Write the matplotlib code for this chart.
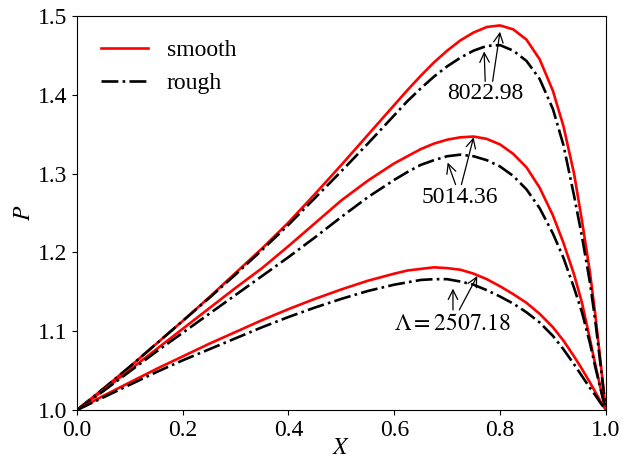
import numpy as np
import matplotlib
matplotlib.use("Agg")
import matplotlib.pyplot as plt

plt.rcParams['font.family'] = ['Liberation Serif', 'DejaVu Serif']
plt.rcParams['mathtext.fontset'] = 'stix'
plt.rcParams['font.size'] = 17

# sampled positions along the bearing
x = [0.0, 0.05, 0.1, 0.15, 0.2, 0.25, 0.3, 0.35, 0.4, 0.45, 0.5, 0.55,
     0.6, 0.625, 0.65, 0.675, 0.7, 0.725, 0.75, 0.775, 0.8, 0.825, 0.85, 0.875, 0.9,
     0.92, 0.94, 0.955, 0.97, 0.98, 0.99, 1.0]

# Lambda = 8022.98
p8022_smooth = [1.0, 1.027, 1.055, 1.084, 1.113, 1.143, 1.174, 1.205, 1.238, 1.274, 1.311, 1.349,
                1.387, 1.406, 1.424, 1.441, 1.456, 1.469, 1.479, 1.486, 1.488, 1.483, 1.470, 1.445, 1.405,
                1.360, 1.300, 1.240, 1.175, 1.122, 1.062, 1.0]
p8022_rough = [1.0, 1.027, 1.055, 1.084, 1.113, 1.142, 1.172, 1.203, 1.235, 1.269, 1.303, 1.338,
               1.374, 1.392, 1.408, 1.423, 1.436, 1.447, 1.456, 1.462, 1.463, 1.456, 1.443, 1.420, 1.382,
               1.336, 1.272, 1.220, 1.162, 1.114, 1.058, 1.0]

# Lambda = 5014.36
p5014_smooth = [1.0, 1.025, 1.051, 1.077, 1.103, 1.129, 1.155, 1.180, 1.208, 1.237, 1.266, 1.291,
                1.313, 1.322, 1.331, 1.338, 1.343, 1.346, 1.347, 1.344, 1.337, 1.325, 1.308, 1.282, 1.247,
                1.212, 1.172, 1.136, 1.090, 1.058, 1.028, 1.0]
p5014_rough = [1.0, 1.024, 1.049, 1.074, 1.098, 1.122, 1.146, 1.170, 1.194, 1.219, 1.245, 1.270,
               1.292, 1.302, 1.311, 1.317, 1.322, 1.324, 1.322, 1.317, 1.309, 1.297, 1.280, 1.256, 1.224,
               1.193, 1.155, 1.124, 1.085, 1.055, 1.027, 1.0]

# Lambda = 2507.18
p2507_smooth = [1.0, 1.018, 1.035, 1.052, 1.068, 1.084, 1.099, 1.114, 1.128, 1.141, 1.153, 1.164,
                1.173, 1.177, 1.179, 1.181, 1.180, 1.178, 1.173, 1.166, 1.157, 1.147, 1.136, 1.122, 1.105,
                1.088, 1.068, 1.052, 1.035, 1.023, 1.011, 1.0]
p2507_rough = [1.0, 1.016, 1.032, 1.048, 1.063, 1.077, 1.091, 1.105, 1.118, 1.130, 1.141, 1.151,
               1.159, 1.162, 1.165, 1.166, 1.166, 1.163, 1.159, 1.152, 1.144, 1.135, 1.124, 1.111, 1.094,
               1.077, 1.058, 1.043, 1.028, 1.019, 1.009, 1.0]

fig = plt.figure(figsize=(6.33, 4.59), dpi=100)
ax = fig.add_axes([0.1216, 0.1068, 0.8354, 0.8584])

ax.plot(x, p8022_smooth, 'r-', lw=1.9, label='smooth')
ax.plot(x, p8022_rough, 'k-.', lw=1.9, label='rough')
ax.plot(x, p5014_smooth, 'r-', lw=1.9)
ax.plot(x, p5014_rough, 'k-.', lw=1.9)
ax.plot(x, p2507_smooth, 'r-', lw=1.9)
ax.plot(x, p2507_rough, 'k-.', lw=1.9)

# labels with arrows pointing at rough / smooth peaks
arr = dict(arrowstyle='->', color='k', lw=0.9, shrinkA=0, shrinkB=0)
ax.text(0.772, 1.401, '8022.98', ha='center', va='center')
ax.annotate('', xy=(0.770, 1.455), xytext=(0.772, 1.417), arrowprops=arr)
ax.annotate('', xy=(0.800, 1.480), xytext=(0.786, 1.417), arrowprops=arr)

ax.text(0.724, 1.270, '5014.36', ha='center', va='center')
ax.annotate('', xy=(0.701, 1.314), xytext=(0.716, 1.286), arrowprops=arr)
ax.annotate('', xy=(0.750, 1.346), xytext=(0.727, 1.286), arrowprops=arr)

ax.text(0.711, 1.109, r'$\Lambda=2507.18$', ha='center', va='center')
ax.annotate('', xy=(0.711, 1.154), xytext=(0.711, 1.127), arrowprops=arr)
ax.annotate('', xy=(0.757, 1.170), xytext=(0.723, 1.127), arrowprops=arr)

ax.set_xlim(0, 1)
ax.set_ylim(1.0, 1.5)
ax.set_xticks(np.arange(0, 1.01, 0.2))
ax.set_yticks(np.arange(1.0, 1.51, 0.1))
ax.set_xlabel('$X$', labelpad=-2)
ax.set_ylabel('$P$', labelpad=2)
ax.legend(loc='upper left', frameon=False, handlelength=2.0, borderaxespad=0.6)

fig.savefig('out.png', dpi=100)
